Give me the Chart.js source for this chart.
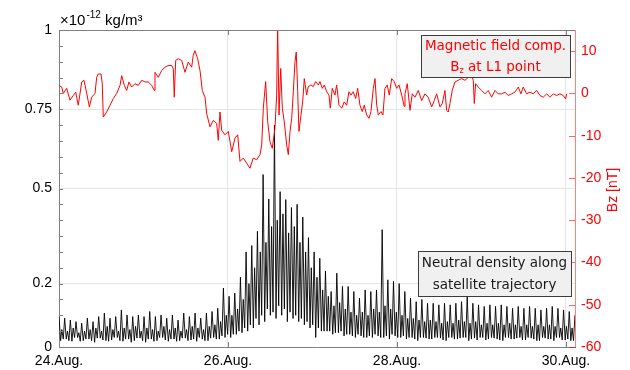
<!DOCTYPE html>
<html><head><meta charset="utf-8">
<script src="https://cdn.jsdelivr.net/npm/chart.js@4/dist/chart.umd.min.js"></script>
<style>html,body{margin:0;padding:0;background:#fff}#wrap{width:630px;height:370px}</style>
</head><body><div id="wrap"><canvas id="c" width="630" height="370"></canvas></div>
<script>
// ---- axes / labels ----
const densTicks=[0,0.2,0.5,0.75,1];
const densTickLabels=['0','0.2','0.5','0.75','1'];
const dateTicks=[24,26,28,30];
const dateLabels=['24.Aug.','26.Aug.','28.Aug.','30.Aug.'];
const bzTicks=[-60,-50,-40,-30,-20,-10,0,10];
const orbitPeriodDays=0.0671;
// ---- neutral density (1e-12 kg/m^3), per orbit: main peak, low, secondary peak, low ----
const densPeaks=[0.096,0.091,0.085,0.080,0.075,0.091,0.080,0.096,0.107,0.091,0.096,0.117,0.101,0.096,0.101,0.096,0.112,0.096,0.101,0.091,0.101,0.085,0.107,0.096,0.107,0.091,0.107,0.112,0.122,0.186,
0.16,0.17,0.22,0.30,0.32,0.365,0.544,0.467,0.70,0.49,0.465,0.44,0.45,0.41,0.345,0.30,0.28,0.24,0.175,0.233,
0.191,0.191,0.175,0.154,0.18,0.175,0.18,0.37,0.212,0.207,0.20,0.175,0.154,0.143,0.15,0.138,0.138,0.133,0.138,0.133,0.138,0.143,0.159,0.138,0.133,0.128,0.133,0.128,0.133,0.128,0.122,0.128,0.122,0.128,0.122,0.117,0.122,0.128,0.122,0.117,0.112,0.10];
const densLows1=[0.02,0.025,0.018,0.03,0.02,0.025,0.015,0.028,0.02,0.022,0.03,0.018,0.025,0.02,0.028,0.015,0.025,0.02,0.03,0.018,0.025,0.02,0.028,0.022,0.018,0.025,0.02,0.03,0.025,0.03,
0.03,0.04,0.045,0.05,0.06,0.07,0.08,0.1,0.09,0.1,
0.08,0.09,0.08,0.07,0.06,0.03,0.05,0.05,0.04,0.045,
0.035,0.04,0.03,0.035,0.03,0.03,0.035,0.03,0.025,0.035,
0.03,0.025,0.03,0.02,0.03,0.025,0.03,0.028,0.02,0.03,
0.025,0.03,0.02,0.028,0.03,0.022,0.03,0.025,0.02,0.03,
0.025,0.03,0.022,0.028,0.02,0.03,0.025,0.02,0.03,0.022,0.02];
const densBumps=[0.055,0.05,0.06,0.045,0.05,0.055,0.06,0.05,0.065,0.055,0.05,0.06,0.055,0.065,0.05,0.06,0.055,0.05,0.065,0.055,0.06,0.05,0.055,0.065,0.06,0.055,0.065,0.07,0.08,0.10,
0.10,0.12,0.15,0.20,0.25,0.30,0.33,0.38,0.40,0.42,0.36,0.38,0.33,0.30,0.25,0.22,0.18,0.16,0.13,0.14,
0.12,0.11,0.10,0.11,0.10,0.12,0.11,0.13,0.12,0.11,0.10,0.09,0.09,0.085,0.08,0.085,0.08,0.075,0.08,0.075,0.085,0.08,0.075,0.08,0.07,0.075,0.07,0.075,0.07,0.075,0.07,0.065,0.07,0.065,0.07,0.065,0.07,0.065,0.06,0.065,0.06];
const densLows2=[0.025,0.02,0.03,0.018,0.025,0.02,0.028,0.022,0.018,0.03,0.02,0.025,0.015,0.028,0.02,0.025,0.018,0.03,0.022,0.025,0.018,0.028,0.02,0.025,0.03,0.02,0.028,0.025,0.035,0.04,
0.04,0.05,0.06,0.07,0.09,0.1,0.12,0.11,0.13,0.12,0.11,0.1,0.09,0.08,0.07,0.06,0.05,0.05,0.045,0.05,
0.04,0.035,0.04,0.03,0.035,0.04,0.03,0.035,0.04,0.03,0.035,0.03,0.025,0.03,0.028,0.025,0.03,0.022,0.03,0.025,0.028,0.03,0.025,0.022,0.03,0.025,0.028,0.022,0.03,0.025,0.028,0.022,0.03,0.025,0.02,0.028,0.025,0.03,0.022,0.025,0.02];
// ---- Bz at L1 (nT): time in days after 24.Aug 00:00 ----
const bzTime=[0.00,0.032,0.051,0.091,0.130,0.169,0.198,0.228,0.269,0.296,0.328,0.359,0.387,0.426,0.446,0.465,0.497,0.512,0.524,0.564,0.604,0.643,0.683,0.722,0.742,0.773,0.801,0.828,0.860,0.899,0.938,0.979,1.018,1.057,1.097,1.128,1.136,1.175,1.215,1.254,1.293,1.334,1.353,1.364,1.381,1.412,1.452,1.491,1.530,1.570,1.589,1.609,1.641,1.669,1.696,1.728,1.748,1.787,1.826,1.866,1.885,1.905,1.925,
1.964,2.004,2.044,2.083,2.115,2.142,2.181,2.221,2.260,2.299,2.340,2.379,2.399,2.418,2.446,2.470,2.497,2.524,2.556,2.576,2.588,2.604,2.624,2.643,2.666,2.695,2.714,2.734,2.754,2.773,2.793,2.808,2.825,2.840,2.864,2.884,2.903,2.931,2.950,2.982,3.009,3.038,3.069,3.089,3.116,3.140,3.168,3.195,3.211,3.234,3.266,3.286,3.314,3.346,3.376,3.405,3.432,3.456,3.483,3.511,3.535,3.562,3.589,3.613,3.641,3.669,3.692,3.720,3.740,3.760,3.779,3.811,3.834,3.858,3.885,3.909,3.937,3.968,3.996,4.024,4.056,4.086,
4.095,4.122,4.154,4.181,4.213,4.252,4.292,4.331,4.370,4.411,4.441,4.470,4.509,4.536,4.568,4.588,4.607,4.627,4.654,4.686,4.725,4.765,4.805,4.844,4.884,4.903,4.915,4.931,4.962,5.002,5.041,5.080,5.120,5.160,5.199,5.239,5.278,5.317,5.357,5.396,5.436,5.467,5.494,5.535,5.574,5.613,5.653,5.692,5.731,5.772,5.811,5.850,5.890,5.929,5.968,5.996,6.008];
const bzValue=[1.9,1.5,0,1.2,-1.6,-0.5,0.3,-2.8,2.7,3.1,0,-3.2,-0.9,0,3.8,4.6,4.6,2.3,-5.6,-4.4,-2.8,-1.2,0,1.9,4.2,1.9,0.7,2.7,1.5,2.3,1.9,3.1,2.7,2.7,1.9,0.7,5.0,3.8,5.4,6.2,6.6,6.6,5.8,-0.9,7.8,8.2,7.8,5.0,7.4,6.2,9.0,10.1,8.2,5.4,0.7,-0.9,-4.8,-7.9,-6.4,-7.1,-11.1,-4.4,-8.7,
-9.8,-9.0,-13.8,-10.6,-9.8,-16.1,-15.3,-16.5,-17.7,-15.3,-15.7,-14.5,-12.2,-3.5,2.8,-6.7,-11.4,-13,-8.3,-0.4,16,-5.1,5.9,-3.5,-6.7,-12.2,-14.5,-9.0,-5.9,0.4,7.5,9.8,0.4,-9.0,-5.1,-2.0,3.5,-0.4,1.6,2.0,1.6,2.8,2.0,2.8,1.2,2.0,0.4,-0.4,-3.5,1.2,-0.4,2.0,-2.8,-3.5,-2.0,-2.8,0.4,-0.4,0.4,-1.2,1.2,-2.8,-4.3,-2.8,-5.1,-5.9,-4.3,1.2,3.5,-2.8,-5.1,-4.3,-5.1,1.2,2.0,-0.4,3.5,2.8,1.2,2.0,-0.4,-3.1,
-0.1,2.3,-4.0,-0.1,-0.9,0.7,-1.7,-0.1,-0.9,-3.2,-1.7,-0.1,-3.2,-2.4,0.7,-4.0,-4.4,-2.4,0.7,2.7,3.1,3.5,3.1,3.8,4.2,3.1,-2.4,2.3,1.5,0.7,-0.1,0.7,-0.9,0.7,-0.1,-0.1,0.3,-0.5,-0.1,0.3,1.5,-0.1,1.5,-0.1,0.3,-0.1,0.7,-0.5,-0.9,-0.1,-0.9,-0.1,-0.5,-0.1,-0.5,-1.3,-0.1];

const densData=[];
for(let k=0;k<densPeaks.length;k++){
  const t0=24+k*orbitPeriodDays;
  densData.push({x:t0,y:densPeaks[k]});
  if(k<densLows1.length){
    densData.push({x:t0+0.28*orbitPeriodDays,y:densLows1[k]});
    densData.push({x:t0+0.5*orbitPeriodDays,y:densBumps[k]});
    densData.push({x:t0+0.75*orbitPeriodDays,y:densLows2[k]});
  }
}
const bzData=bzTime.map((t,i)=>({x:24+t,y:bzValue[i]}));

const TF='"Liberation Sans", Arial, sans-serif';
const BF='"DejaVu Sans", sans-serif';

const decor={
  id:'decor',
  afterDatasetsDraw(chart){
    const c=chart.ctx, a=chart.chartArea, y=chart.scales.y, y2=chart.scales.y2, x=chart.scales.x;
    c.save();
    c.strokeStyle='#808080'; c.lineWidth=1;
    c.beginPath(); c.moveTo(a.left,a.top+0.5); c.lineTo(a.right,a.top+0.5); c.stroke();
    c.beginPath();
    for(let i=1;i<20;i++){const py=Math.round(y.getPixelForValue(i*0.05))+0.5; c.moveTo(a.left,py); c.lineTo(a.left+4,py);}
    dateTicks.forEach(v=>{const px=Math.round(x.getPixelForValue(v))+0.5; if(v>24){c.moveTo(px,a.top); c.lineTo(px,a.top+5); c.moveTo(px,a.bottom); c.lineTo(px,a.bottom-5);}});
    c.stroke();
    c.strokeStyle='rgba(255,0,0,0.6)';
    c.beginPath();
    bzTicks.forEach(v=>{const py=Math.round(y2.getPixelForValue(v))+0.5; c.moveTo(a.right,py); c.lineTo(a.right-6,py);});
    c.stroke();
    c.fillStyle='#000'; c.textBaseline='alphabetic'; c.textAlign='left';
    c.font='15px '+TF; c.fillText('\u00d710',60,25);
    let w=c.measureText('\u00d710').width;
    c.font='10px '+TF; c.fillText('-12',60+w+1,18);
    let w2=c.measureText('-12').width;
    c.font='15px '+TF; c.fillText(' kg/m\u00b3',60+w+w2+1,25);
    c.save(); c.translate(613,190); c.rotate(-Math.PI/2);
    c.fillStyle='#ff0000'; c.font='14px '+TF; c.textAlign='center'; c.textBaseline='middle';
    c.fillText('Bz [nT]',0,0); c.restore();
    function box(bx,by,bw,bh){c.fillStyle='#f0f0f0'; c.fillRect(bx,by,bw,bh); c.strokeStyle='#3c3c3c'; c.lineWidth=1; c.strokeRect(bx+0.5,by+0.5,bw,bh);}
    box(421,35,149,42);
    box(418,251,153,45);
    c.font='13.5px '+BF; c.textBaseline='middle'; c.textAlign='center';
    c.fillStyle='#ff0000';
    c.fillText('Magnetic field comp.',495.5,46);
    c.textAlign='left';
    const s1='B', s3=' at L1 point';
    const wB=c.measureText(s1).width, w3=c.measureText(s3).width;
    c.font='8px '+BF; const wz=c.measureText('z').width;
    const tot=wB+wz+w3; let sx=495.5-tot/2;
    c.font='13.5px '+BF; c.fillText(s1,sx,67);
    c.font='8px '+BF; c.fillText('z',sx+wB,71);
    c.font='13.5px '+BF; c.fillText(s3,sx+wB+wz,67);
    c.textAlign='center'; c.fillStyle='#1a1a1a';
    c.fillText('Neutral density along',494.5,263);
    c.fillText('satellite trajectory',494.5,285);
    c.restore();
  }
};

new Chart(document.getElementById('c'),{
  type:'line',
  data:{datasets:[
    {label:'Bz',data:bzData,yAxisID:'y2',borderColor:'#ff0000',borderWidth:1,pointRadius:0,tension:0,order:0},
    {label:'density',data:densData,yAxisID:'y',borderColor:'#000000',borderWidth:0.9,pointRadius:0,tension:0,order:1}
  ]},
  options:{
    responsive:false,animation:false,
    layout:{padding:{top:30,left:0,right:0,bottom:0}},
    plugins:{legend:{display:false},tooltip:{enabled:false}},
    scales:{
      x:{type:'linear',min:24,max:30.107,
        afterBuildTicks:s=>{s.ticks=dateTicks.map(v=>({value:v}));},
        ticks:{callback:v=>dateLabels[dateTicks.indexOf(v)],color:'#000',font:{family:TF,size:14},padding:6,maxRotation:0,autoSkip:false},
        grid:{color:c=>(c.tick&&c.tick.value===24)?'rgba(0,0,0,0)':'#e6e6e6',drawTicks:false},
        border:{color:'#808080'},
        afterFit:s=>{s.height=23;}},
      y:{position:'left',min:0,max:1,
        afterBuildTicks:s=>{s.ticks=densTicks.map(v=>({value:v}));},
        ticks:{callback:v=>densTickLabels[densTicks.indexOf(v)],color:'#000',font:{family:TF,size:14},padding:7,autoSkip:false},
        grid:{color:c=>(c.tick&&(c.tick.value===0||c.tick.value===1))?'rgba(0,0,0,0)':'#e6e6e6',drawTicks:false},
        border:{color:'#808080'},
        afterFit:s=>{s.width=59;}},
      y2:{position:'right',min:-60,max:15,
        afterBuildTicks:s=>{s.ticks=bzTicks.map(v=>({value:v}));},
        ticks:{color:'#ff0000',font:{family:TF,size:14},padding:6,autoSkip:false},
        grid:{drawOnChartArea:false,drawTicks:false},
        border:{color:'rgba(255,0,0,0.5)'},
        afterFit:s=>{s.width=55;}}
    }
  },
  plugins:[decor]
});
</script></body></html>
